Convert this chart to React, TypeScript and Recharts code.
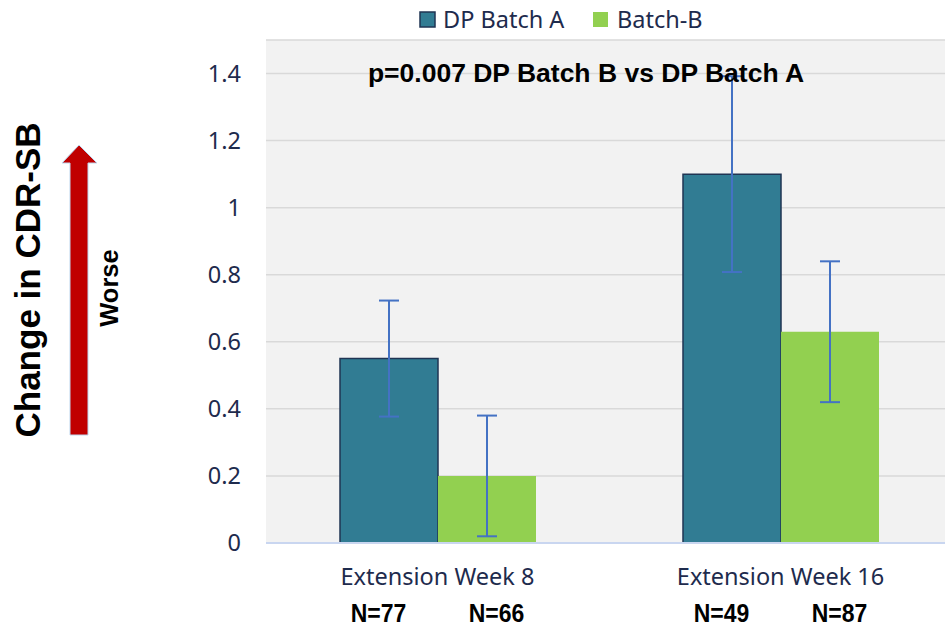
import { BarChart, Bar, XAxis, YAxis, CartesianGrid, ErrorBar } from 'recharts';

// Extension study, mean change in CDR-SB by drug product batch
const categories = ['Extension Week 8', 'Extension Week 16'];
const batchA = [0.55, 1.1];
const batchB = [0.2, 0.63];
const batchAErr = [0.173, 0.292];
const batchBErr = [0.18, 0.21];
const batchAN = [77, 49];
const batchBN = [66, 87];
const seriesNames = ['DP Batch A', 'Batch-B'];
const yTicks = [0, 0.2, 0.4, 0.6, 0.8, 1, 1.2, 1.4];
const pValueNote = 'p=0.007 DP Batch B vs DP Batch A';

const COLOR_A = '#317c93';
const COLOR_B = '#92d050';
const NAVY = '#1e2b4d';
const ERR = '#4472c4';
const SANS = '"Noto Sans", Arial, sans-serif';
const BOLD = '"Liberation Sans", Arial, sans-serif';

const data = categories.map((name, i) => ({
  name,
  a: batchA[i],
  b: batchB[i],
  aErr: batchAErr[i],
  bErr: batchBErr[i],
}));

function CategoryTick({ x, y, payload, index }: any) {
  return (
    <g>
      <text x={x} y={y + 40} textAnchor="middle" fill={NAVY} fontFamily={SANS} fontSize={23.5}>
        {payload.value}
      </text>
      <text
        transform={`translate(${x - 59} ${y + 77}) scale(1 1.15)`}
        textAnchor="middle"
        fill="#000"
        fontFamily={BOLD}
        fontWeight="bold"
        fontSize={23}
      >
        N={batchAN[index]}
      </text>
      <text
        transform={`translate(${x + 59} ${y + 77}) scale(1 1.15)`}
        textAnchor="middle"
        fill="#000"
        fontFamily={BOLD}
        fontWeight="bold"
        fontSize={23}
      >
        N={batchBN[index]}
      </text>
    </g>
  );
}

export default function App() {
  return (
    <div style={{ position: 'fixed', left: 0, top: 0, width: 945, height: 626, overflow: 'hidden', background: '#fff' }}>
      <BarChart
        width={952}
        height={626}
        data={data}
        margin={{ top: 40, right: 0, left: 0, bottom: 0 }}
        barGap={0}
        barSize={98}
      >
        <CartesianGrid vertical={false} fill="#f2f2f2" stroke="#d9d9d9" strokeWidth={1.5} />
        <XAxis
          dataKey="name"
          height={83}
          tickLine={false}
          tickSize={0}
          axisLine={{ stroke: '#c9d6f0', strokeWidth: 2 }}
          tick={<CategoryTick />}
          interval={0}
        />
        <YAxis
          width={266}
          domain={[0, 1.5]}
          ticks={yTicks}
          tickLine={false}
          axisLine={false}
          tickSize={0}
          tickMargin={25}
          tick={{ fill: NAVY, fontFamily: SANS, fontSize: 23.5 }}
        />
        <Bar dataKey="a" fill={COLOR_A} stroke="#1f3453" strokeWidth={1.5} isAnimationActive={false}>
          <ErrorBar dataKey="aErr" stroke={ERR} strokeWidth={2} width={10} isAnimationActive={false} />
        </Bar>
        <Bar dataKey="b" fill={COLOR_B} isAnimationActive={false}>
          <ErrorBar dataKey="bErr" stroke={ERR} strokeWidth={2} width={10} isAnimationActive={false} />
        </Bar>
      </BarChart>

      {/* annotations: legend, p-value note, axis title and arrow */}
      <svg width={945} height={626} style={{ position: 'absolute', left: 0, top: 0, pointerEvents: 'none' }}>
        <rect x={420} y={12} width={15} height={15} fill={COLOR_A} stroke="#1f3453" strokeWidth={1.5} />
        <text x={443} y={28} fill={NAVY} fontFamily={SANS} fontSize={23.5}>{seriesNames[0]}</text>
        <rect x={593} y={12} width={15} height={15} fill={COLOR_B} />
        <text x={617} y={28} fill={NAVY} fontFamily={SANS} fontSize={23.5}>{seriesNames[1]}</text>

        <text x={586} y={82} textAnchor="middle" fontFamily={BOLD} fontWeight="bold" fontSize={26.5} fill="#000">
          {pValueNote}
        </text>

        <text
          transform="translate(40 280) rotate(-90)"
          textAnchor="middle"
          fontFamily={BOLD}
          fontWeight="bold"
          fontSize={35}
          fill="#000"
        >
          Change in CDR-SB
        </text>
        <text
          transform="translate(118 288) rotate(-90)"
          textAnchor="middle"
          fontFamily={BOLD}
          fontWeight="bold"
          fontSize={25.5}
          fill="#000"
        >
          Worse
        </text>

        <polygon
          points="70,435 70,163 62,163 79,145 97,163 88,163 88,435"
          fill="#c00000"
          stroke="#bdd7ee"
          strokeWidth={1}
        />
      </svg>
    </div>
  );
}
